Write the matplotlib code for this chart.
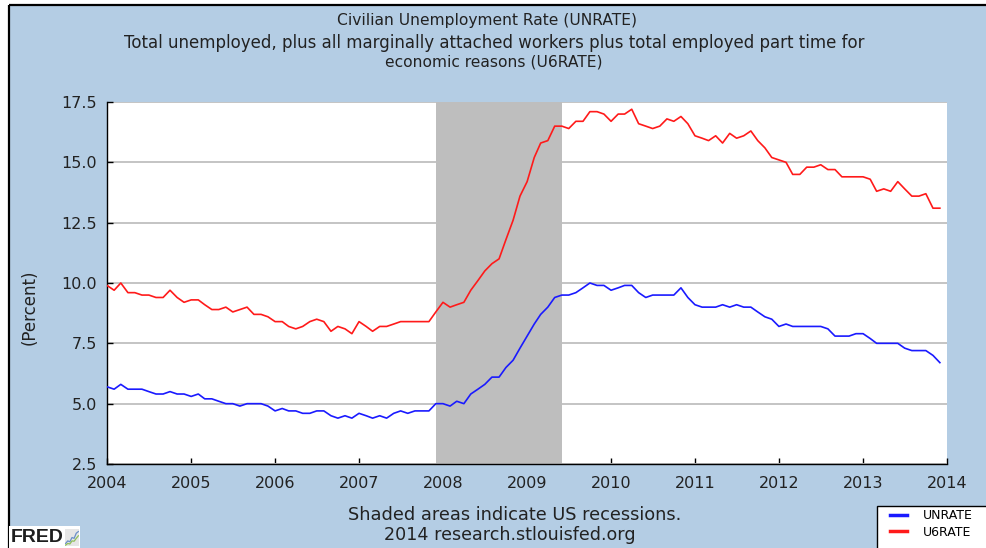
import numpy as np
import pandas as pd
import matplotlib
matplotlib.use('Agg')
import matplotlib.pyplot as plt
from matplotlib.patches import Rectangle
from matplotlib.lines import Line2D

# Monthly data, Jan 2004 - Dec 2013 (percent)
unrate = [
    5.7, 5.6, 5.8, 5.6, 5.6, 5.6, 5.5, 5.4, 5.4, 5.5, 5.4, 5.4,   # 2004
    5.3, 5.4, 5.2, 5.2, 5.1, 5.0, 5.0, 4.9, 5.0, 5.0, 5.0, 4.9,   # 2005
    4.7, 4.8, 4.7, 4.7, 4.6, 4.6, 4.7, 4.7, 4.5, 4.4, 4.5, 4.4,   # 2006
    4.6, 4.5, 4.4, 4.5, 4.4, 4.6, 4.7, 4.6, 4.7, 4.7, 4.7, 5.0,   # 2007
    5.0, 4.9, 5.1, 5.0, 5.4, 5.6, 5.8, 6.1, 6.1, 6.5, 6.8, 7.3,   # 2008
    7.8, 8.3, 8.7, 9.0, 9.4, 9.5, 9.5, 9.6, 9.8, 10.0, 9.9, 9.9,  # 2009
    9.7, 9.8, 9.9, 9.9, 9.6, 9.4, 9.5, 9.5, 9.5, 9.5, 9.8, 9.4,   # 2010
    9.1, 9.0, 9.0, 9.0, 9.1, 9.0, 9.1, 9.0, 9.0, 8.8, 8.6, 8.5,   # 2011
    8.2, 8.3, 8.2, 8.2, 8.2, 8.2, 8.2, 8.1, 7.8, 7.8, 7.8, 7.9,   # 2012
    7.9, 7.7, 7.5, 7.5, 7.5, 7.5, 7.3, 7.2, 7.2, 7.2, 7.0, 6.7,   # 2013
]
u6rate = [
    9.9, 9.7, 10.0, 9.6, 9.6, 9.5, 9.5, 9.4, 9.4, 9.7, 9.4, 9.2,        # 2004
    9.3, 9.3, 9.1, 8.9, 8.9, 9.0, 8.8, 8.9, 9.0, 8.7, 8.7, 8.6,         # 2005
    8.4, 8.4, 8.2, 8.1, 8.2, 8.4, 8.5, 8.4, 8.0, 8.2, 8.1, 7.9,         # 2006
    8.4, 8.2, 8.0, 8.2, 8.2, 8.3, 8.4, 8.4, 8.4, 8.4, 8.4, 8.8,         # 2007
    9.2, 9.0, 9.1, 9.2, 9.7, 10.1, 10.5, 10.8, 11.0, 11.8, 12.6, 13.6,  # 2008
    14.2, 15.2, 15.8, 15.9, 16.5, 16.5, 16.4, 16.7, 16.7, 17.1, 17.1, 17.0,  # 2009
    16.7, 17.0, 17.0, 17.2, 16.6, 16.5, 16.4, 16.5, 16.8, 16.7, 16.9, 16.6,  # 2010
    16.1, 16.0, 15.9, 16.1, 15.8, 16.2, 16.0, 16.1, 16.3, 15.9, 15.6, 15.2,  # 2011
    15.1, 15.0, 14.5, 14.5, 14.8, 14.8, 14.9, 14.7, 14.7, 14.4, 14.4, 14.4,  # 2012
    14.4, 14.3, 13.8, 13.9, 13.8, 14.2, 13.9, 13.6, 13.6, 13.7, 13.1, 13.1,  # 2013
]
dates = pd.date_range('2004-01-01', periods=len(unrate), freq='MS')

recession_start = '2007-12-01'
recession_end = '2009-06-01'

year_ticks = list(range(2004, 2015))
y_ticks = [2.5, 5.0, 7.5, 10.0, 12.5, 15.0, 17.5]

# little FRED logo sparkline
logo_blue = [0.15, 0.3, 0.25, 0.5, 0.45, 0.75, 0.85]
logo_green = [0.05, 0.15, 0.12, 0.3, 0.28, 0.45, 0.6]

BG = '#B4CDE4'
TXT = '#222222'
W, H = 986, 548


def fx(x):
    return x / W


def fy(y):
    return 1 - y / H


fig = plt.figure(figsize=(W / 100, H / 100), dpi=100, facecolor='white')
plt.rcParams['font.family'] = ['DejaVu Sans']

# blue background panel with black frame on top / left only
fig.patches.append(Rectangle((fx(9), 0), 1 - fx(9), fy(5), transform=fig.transFigure,
                             facecolor=BG, edgecolor='none', lw=0, zorder=-5))
fig.lines.append(Line2D([fx(9), 1], [fy(5), fy(5)], transform=fig.transFigure,
                        color='black', lw=1.6, solid_capstyle='butt', zorder=-4))
fig.lines.append(Line2D([fx(9), fx(9)], [0, fy(5)], transform=fig.transFigure,
                        color='black', lw=1.6, solid_capstyle='butt', zorder=-4))

ax = fig.add_axes([fx(107), fy(464), fx(947) - fx(107), fy(102) - fy(464)])
ax.set_facecolor('white')

ax.axvspan(pd.Timestamp(recession_start), pd.Timestamp(recession_end),
           color='#BEBEBE', lw=0, zorder=2)
ax.plot(dates, unrate, color='#1a1aff', lw=1.2, zorder=3, label='UNRATE')
ax.plot(dates, u6rate, color='#ff1a1a', lw=1.2, zorder=3, label='U6RATE')

ax.set_xlim(pd.Timestamp('2004-01-01'), pd.Timestamp('2014-01-01'))
ax.set_ylim(2.5, 17.5)
ax.set_yticks(y_ticks)
ax.set_yticklabels(['%.1f' % v for v in y_ticks])
ax.set_xticks([pd.Timestamp('%d-01-01' % y) for y in year_ticks])
ax.set_xticklabels([str(y) for y in year_ticks])
ax.grid(axis='y', color='#C4C4C4', lw=1.4, zorder=1)
ax.set_axisbelow(True)

for s in ['top', 'right']:
    ax.spines[s].set_visible(False)
for s in ['left', 'bottom']:
    ax.spines[s].set_color('black')
    ax.spines[s].set_linewidth(1.0)
ax.tick_params(direction='in', length=4.5, width=1.0, color='black',
               labelsize=11.5, labelcolor=TXT, pad=7)
ax.tick_params(axis='x', pad=9)

# titles
fig.text(fx(487), fy(20), 'Civilian Unemployment Rate (UNRATE)',
         ha='center', va='center', fontsize=11.2, color=TXT)
fig.text(fx(494), fy(43),
         'Total unemployed, plus all marginally attached workers plus total employed part time for',
         ha='center', va='center', fontsize=12.0, color=TXT)
fig.text(fx(494), fy(62), 'economic reasons (U6RATE)',
         ha='center', va='center', fontsize=11.2, color=TXT)
fig.text(fx(30), fy(307), '(Percent)', rotation=90,
         ha='center', va='center', fontsize=12, color=TXT)

# footer
fig.text(fx(515), fy(515), 'Shaded areas indicate US recessions.',
         ha='center', va='center', fontsize=12.8, color=TXT)
fig.text(fx(510), fy(535), '2014 research.stlouisfed.org',
         ha='center', va='center', fontsize=12.6, color=TXT)

# FRED logo
fig.patches.append(Rectangle((fx(9), 0), fx(80) - fx(9), fy(526),
                             transform=fig.transFigure, facecolor='white',
                             edgecolor='none', lw=0, zorder=1))
fig.text(fx(11), fy(538), 'FRED', ha='left', va='center', fontsize=14,
         fontweight='bold', family='Liberation Sans',
         color='#1e1e1e', zorder=2)
lax = fig.add_axes([fx(65), fy(546), fx(79) - fx(65), fy(529) - fy(546)],
                   zorder=3)
lax.add_patch(Rectangle((0, 0), 1, 1, transform=lax.transAxes,
                        facecolor='#e6e6e6', edgecolor='none', zorder=0))
lax.plot(range(len(logo_blue)), logo_blue, color='#6a8fc8', lw=0.9)
lax.plot(range(len(logo_green)), logo_green, color='#8fbf5a', lw=0.9)
lax.set_ylim(0, 1)
lax.axis('off')

# legend box runs off the right edge, as in the reference
fig.patches.append(Rectangle((fx(877), fy(548) - 0.01), 0.2, fy(506) - fy(548) + 0.01,
                             transform=fig.transFigure, facecolor='white',
                             edgecolor='black', lw=1.0, zorder=4))
leg = fig.legend(loc='upper left', bbox_to_anchor=(fx(890), fy(509)),
                 bbox_transform=fig.transFigure, fontsize=9, frameon=False,
                 handlelength=1.35, handletextpad=1.3,
                 borderpad=0, labelspacing=0.3, borderaxespad=0)
leg.set_zorder(5)
for line in leg.get_lines():
    line.set_linewidth(2.5)

fig.savefig('out.png', dpi=100, facecolor=fig.get_facecolor())
